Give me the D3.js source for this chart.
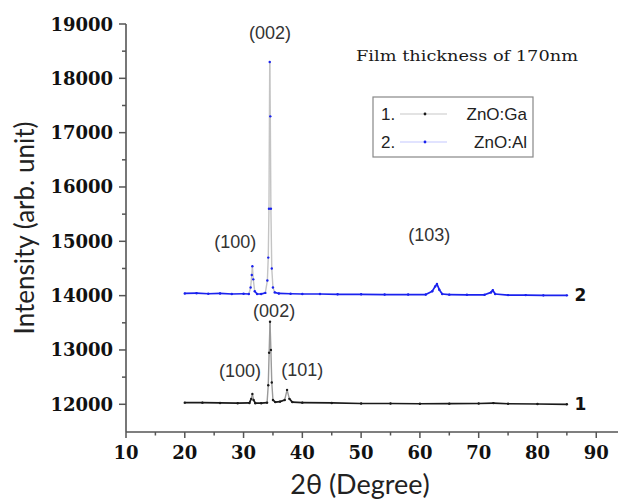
<!DOCTYPE html>
<html>
<head>
<meta charset="utf-8">
<script src="https://cdn.jsdelivr.net/npm/d3@7"></script>
<style>
  body { margin: 0; background: #fff; }
  svg { display: block; }
</style>
</head>
<body>
<svg width="619" height="499"></svg>
<script>
// --- Data ---
const alX = [20, 22, 24, 26, 28, 30, 30.9, 31.2, 31.4, 31.5, 31.65, 31.9, 32.3, 33, 33.7, 34.05, 34.2, 34.32, 34.45, 34.55, 34.65, 34.8, 35.0, 35.3, 36, 38, 40, 43, 46, 50, 54, 58, 61, 62.1, 62.6, 62.9, 63.3, 63.8, 65, 68, 71, 72.1, 72.4, 72.8, 75, 78, 81, 85];
const alY = [14040, 14045, 14035, 14040, 14030, 14035, 14030, 14150, 14380, 14540, 14300, 14080, 14030, 14030, 14050, 14280, 14700, 15600, 18300, 17300, 15600, 14500, 14150, 14060, 14040, 14035, 14030, 14030, 14025, 14025, 14020, 14020, 14020, 14080, 14170, 14215, 14110, 14030, 14018, 14015, 14015, 14060, 14100, 14030, 14010, 14010, 14005, 14005];

const gaX = [20, 23, 26, 29, 31.0, 31.3, 31.5, 31.7, 32.0, 33, 34.0, 34.2, 34.35, 34.5, 34.65, 34.8, 35.0, 35.4, 36.2, 37.0, 37.4, 37.8, 38.3, 40, 45, 50, 55, 60, 65, 70, 72.5, 75, 80, 85];
const gaY = [12030, 12030, 12025, 12020, 12025, 12100, 12190, 12080, 12020, 12020, 12030, 12350, 12950, 13520, 13000, 12400, 12080, 12040, 12050, 12080, 12265, 12100, 12040, 12030, 12025, 12015, 12015, 12010, 12012, 12015, 12022, 12010, 12005, 12000];

const xTicks = [10, 20, 30, 40, 50, 60, 70, 80, 90];
const yTicks = [12000, 13000, 14000, 15000, 16000, 17000, 18000, 19000];

const peakLabels = [
  { text: "(002)", x: 34.5, y: 18720 },
  { text: "(100)", x: 28.6, y: 14880 },
  { text: "(103)", x: 61.6, y: 15010 },
  { text: "(002)", x: 35.2, y: 13600 },
  { text: "(100)", x: 29.4, y: 12500 },
  { text: "(101)", x: 40.0, y: 12520 }
];

const series = [
  { name: "ZnO:Ga", num: "1", xs: gaX, ys: gaY, color: "#1a1a1a", soft: "#9a9a9a", legendLine: "#c8c8c8" },
  { name: "ZnO:Al", num: "2", xs: alX, ys: alY, color: "#1a22ee", soft: "#c4c4c4", legendLine: "#c4c8ff" }
];

// --- Setup ---
const svg = d3.select("svg");
const x = d3.scaleLinear().domain([10, 93.7]).range([126, 618]);
const y = d3.scaleLinear().domain([11490, 19000]).range([432, 24]);

const axisColor = "#555";
const tickFont = "'DejaVu Serif', serif";

// --- Axes ---
const gx = svg.append("g").attr("transform", `translate(0,${y.range()[0]})`);
gx.append("line").attr("x1", x.range()[0]).attr("x2", x.range()[1])
  .attr("stroke", axisColor).attr("stroke-width", 1.6);
d3.range(10, 91, 5).forEach(v => {
  const major = v % 10 === 0;
  gx.append("line").attr("x1", x(v)).attr("x2", x(v)).attr("y1", 0).attr("y2", major ? 6 : 3.5)
    .attr("stroke", axisColor).attr("stroke-width", 1.5);
});
gx.selectAll("text.tick").data(xTicks).enter().append("text")
  .attr("x", d => x(d)).attr("y", 27)
  .attr("text-anchor", "middle")
  .attr("font-family", tickFont).attr("font-weight", "bold").attr("font-size", "18px")
  .attr("fill", "#111")
  .text(d => d);

const gy = svg.append("g").attr("transform", `translate(${x.range()[0]},0)`);
gy.append("line").attr("y1", y.range()[0]).attr("y2", y.range()[1])
  .attr("stroke", axisColor).attr("stroke-width", 1.6);
d3.range(12000, 19001, 500).forEach(v => {
  const major = v % 1000 === 0;
  gy.append("line").attr("y1", y(v)).attr("y2", y(v)).attr("x1", 0).attr("x2", major ? -7 : -4)
    .attr("stroke", axisColor).attr("stroke-width", 1.5);
});
gy.selectAll("text.tick").data(yTicks).enter().append("text")
  .attr("x", -13).attr("y", d => y(d) + 6.5)
  .attr("text-anchor", "end")
  .attr("font-family", tickFont).attr("font-weight", "bold").attr("font-size", "18px")
  .attr("fill", "#111")
  .text(d => d);

// axis titles
svg.append("text")
  .attr("transform", "translate(34,228) rotate(-90)")
  .attr("text-anchor", "middle")
  .attr("font-family", "Lato, sans-serif").attr("font-size", "26px")
  .attr("fill", "#222")
  .text("Intensity (arb. unit)");

svg.append("text")
  .attr("x", 360).attr("y", 494)
  .attr("text-anchor", "middle")
  .attr("font-family", "Lato, sans-serif").attr("font-size", "27px")
  .attr("fill", "#222")
  .text("2θ (Degree)");

// --- Series: steep segments drawn soft with dot markers ---
series.forEach(s => {
  const pts = s.xs.map((v, i) => [x(v), y(s.ys[i])]);
  const g = svg.append("g");
  for (let i = 0; i < pts.length - 1; i++) {
    const [x0, y0] = pts[i], [x1, y1] = pts[i + 1];
    const steep = Math.abs(y1 - y0) > 2.5 * Math.abs(x1 - x0) && Math.abs(y1 - y0) > 4;
    g.append("line")
      .attr("x1", x0).attr("y1", y0).attr("x2", x1).attr("y2", y1)
      .attr("stroke", steep ? s.soft : s.color)
      .attr("stroke-width", steep ? 1.4 : 1.7)
      .attr("stroke-linecap", "round");
  }
  g.selectAll("circle").data(pts).enter().append("circle")
    .attr("cx", d => d[0]).attr("cy", d => d[1]).attr("r", 1.2)
    .attr("fill", s.color);

  // curve number at right end
  svg.append("text")
    .attr("x", x(86.3)).attr("y", pts[pts.length - 1][1] + 6)
    .attr("font-family", "'DejaVu Sans', sans-serif").attr("font-weight", "bold").attr("font-size", "17px")
    .attr("fill", "#111")
    .text(s.num);
});

// --- Peak labels ---
svg.selectAll("text.peak").data(peakLabels).enter().append("text")
  .attr("x", d => x(d.x)).attr("y", d => y(d.y))
  .attr("text-anchor", "middle")
  .attr("font-family", "'Liberation Sans', Arial, sans-serif").attr("font-size", "18px")
  .attr("fill", "#333")
  .text(d => d.text);

// --- Annotation ---
svg.append("text")
  .attr("x", 356).attr("y", 61)
  .attr("font-family", "'DejaVu Serif', serif").attr("font-size", "15px")
  .attr("textLength", 222).attr("lengthAdjust", "spacingAndGlyphs")
  .attr("fill", "#1a1a1a")
  .text("Film thickness of 170nm");

// --- Legend ---
const legend = svg.append("g").attr("transform", "translate(373,97)");
legend.append("rect").attr("width", 160).attr("height", 60)
  .attr("fill", "#fff").attr("stroke", "#888").attr("stroke-width", 1.2);
series.forEach((s, i) => {
  const row = legend.append("g").attr("transform", `translate(0,${23 + i * 28})`);
  row.append("text").attr("x", 8).attr("y", 0)
    .attr("font-family", "'Liberation Sans', Arial, sans-serif").attr("font-size", "17px")
    .attr("fill", "#222").text(s.num + ".");
  row.append("line").attr("x1", 27).attr("x2", 74).attr("y1", -6).attr("y2", -6)
    .attr("stroke", s.legendLine).attr("stroke-width", 1.2);
  row.append("circle").attr("cx", 52).attr("cy", -6).attr("r", 1.4).attr("fill", s.color);
  row.append("text").attr("x", 154).attr("y", 0).attr("text-anchor", "end")
    .attr("font-family", "'Liberation Sans', Arial, sans-serif").attr("font-size", "17px")
    .attr("fill", "#222").text(s.name);
});
</script>
</body>
</html>
